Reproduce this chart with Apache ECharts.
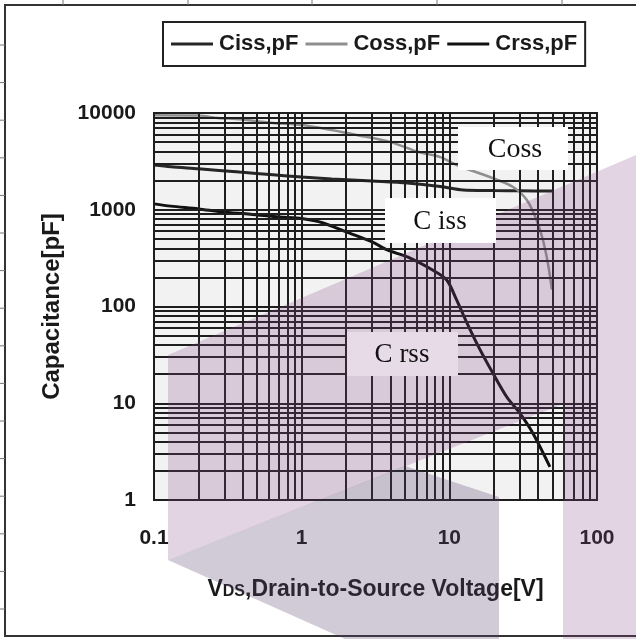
<!DOCTYPE html>
<html><head><meta charset="utf-8">
<script src="https://cdn.jsdelivr.net/npm/echarts@6/dist/echarts.min.js"></script>
<style>html,body{margin:0;padding:0;background:#fff}#c{width:636px;height:639px}</style>
</head><body><div id="c"></div>
<script>
// ---- data ----
const seriesNames = ['Ciss,pF', 'Coss,pF', 'Crss,pF'];
const cissV = [0.1, 0.13, 0.2, 0.38, 0.64, 1.0, 1.6, 3.0, 5.2, 8.7, 12.4, 20, 30, 50];
const cissC = [2900, 2780, 2650, 2450, 2300, 2180, 2080, 1980, 1890, 1740, 1600, 1580, 1570, 1560];
const cossV = [0.1, 0.2, 0.27, 0.38, 0.64, 1.0, 1.56, 2.4, 4.0, 6.2, 8.7, 11.2, 18.8, 27, 33.5, 39, 43, 46.5, 49.5];
const cossC = [9500, 9400, 8900, 8600, 7900, 7500, 6700, 5900, 5000, 3950, 3500, 2900, 2180, 1720, 1260, 780, 490, 280, 150];
const crssV = [0.1, 0.13, 0.2, 0.29, 0.45, 0.71, 1.0, 1.4, 2.0, 3.0, 3.8, 5.2, 7.7, 9.6, 11.2, 13.2, 16.1, 19.7, 24.5, 30, 36.8, 48];
const crssC = [1150, 1090, 1020, 950, 900, 840, 810, 730, 590, 465, 384, 325, 238, 188, 117, 67, 36, 20.5, 11.6, 7.9, 4.9, 2.2];
const xTickLabels = ['0.1', '1', '10', '100'];
const yTickLabels = ['1', '10', '100', '1000', '10000'];
const annotations = ['Coss', 'C iss', 'C rss'];

// ---- helpers ----
function pairs(xs, ys) { return xs.map((x, i) => [x, ys[i]]); }
function decadeGrid(minExp, maxExp) {
  const out = [];
  for (let e = minExp; e < maxExp; e++) for (let k = 1; k <= 9; k++) out.push(k * Math.pow(10, e));
  out.push(Math.pow(10, maxExp));
  return out;
}
function hasFont(f) {
  const c = document.createElement('canvas').getContext('2d');
  const s = 'Ciss,pF Coss,pF';
  c.font = 'bold 26px monospace'; const a = c.measureText(s).width;
  c.font = "bold 26px '" + f + "', monospace"; const b = c.measureText(s).width;
  return a !== b;
}
const narrow = hasFont('Liberation Sans Narrow');
const legendFont = narrow ? { fontFamily: "'Liberation Sans Narrow'", fontSize: 26 } : { fontFamily: "'Liberation Sans'", fontSize: 22 };
const SANS = "'Liberation Sans', Arial, sans-serif";
const SERIF = "'Liberation Serif', 'Times New Roman', serif";
const gridColor = '#1e1e1e';

const chart = echarts.init(document.getElementById('c'), null, { renderer: 'canvas' });
const option = {
  backgroundColor: '#ffffff',
  animation: false,
  legend: {
    data: seriesNames.map(n => ({ name: n, icon: 'rect' })),
    left: 163, top: 22,
    padding: [10, 8, 10, 8],
    itemGap: 7, itemWidth: 42, itemHeight: 3,
    backgroundColor: '#ffffff',
    borderColor: '#222', borderWidth: 2, borderRadius: 0,
    textStyle: Object.assign({ fontWeight: 'bold', color: '#1a1a1a', lineHeight: 24, padding: [0, 0, 0, 1] }, legendFont)
  },
  grid: {
    left: 154, right: 39, top: 113, bottom: 139,
    show: true, backgroundColor: '#f2f2f2', borderColor: '#222', borderWidth: 2
  },
  xAxis: {
    type: 'log', logBase: 10, min: 0.1, max: 100,
    name: '{a|V}{b|DS}{a|,Drain-to-Source Voltage[V]}',
    nameLocation: 'middle', nameGap: 78,
    nameTextStyle: {
      rich: {
        a: { fontFamily: SANS, fontWeight: 'bold', fontSize: 23, color: '#1a1a1a' },
        b: { fontFamily: SANS, fontWeight: 'bold', fontSize: 16, color: '#1a1a1a', verticalAlign: 'bottom', padding: [0, 0, 1, 0] }
      }
    },
    axisLine: { show: true, lineStyle: { color: '#222', width: 2 } },
    axisTick: { show: false },
    splitLine: { show: false },
    axisLabel: {
      margin: 28, fontFamily: SANS, fontWeight: 'bold', fontSize: 21, color: '#1a1a1a',
      formatter: v => xTickLabels[Math.round(Math.log10(v)) + 1]
    }
  },
  yAxis: {
    type: 'log', logBase: 10, min: 1, max: 10000,
    name: 'Capacitance[pF]', nameLocation: 'middle', nameGap: 90, nameRotate: 90,
    nameTextStyle: { fontFamily: SANS, fontWeight: 'bold', fontSize: 24, color: '#1a1a1a' },
    axisLine: { show: true, lineStyle: { color: '#222', width: 2 } },
    axisTick: { show: false },
    splitLine: { show: false },
    axisLabel: {
      margin: 18, fontFamily: SANS, fontWeight: 'bold', fontSize: 21, color: '#1a1a1a',
      formatter: v => yTickLabels[Math.round(Math.log10(v))]
    }
  },
  series: [
    {
      name: 'gridlines', type: 'line', data: [], z: 1, silent: true,
      markLine: {
        silent: true, symbol: ['none', 'none'], label: { show: false }, animation: false,
        lineStyle: { color: gridColor, width: 2, type: 'solid' },
        emphasis: { disabled: true },
        data: decadeGrid(-1, 2).map(v => ({ xAxis: v })).concat(decadeGrid(0, 4).map(v => ({ yAxis: v })))
      }
    },
    { name: seriesNames[0], type: 'line', data: pairs(cissV, cissC), showSymbol: false, symbol: 'none', smooth: 0.3, z: 3,
      lineStyle: { color: '#262626', width: 3 }, itemStyle: { color: '#262626' } },
    { name: seriesNames[1], type: 'line', data: pairs(cossV, cossC), showSymbol: false, symbol: 'none', smooth: 0.3, z: 3,
      lineStyle: { color: '#8f8f8f', width: 2.5 }, itemStyle: { color: '#8f8f8f' } },
    { name: seriesNames[2], type: 'line', data: pairs(crssV, crssC), showSymbol: false, symbol: 'none', smooth: 0.3, z: 3,
      lineStyle: { color: '#111111', width: 3 }, itemStyle: { color: '#111111' } }
  ],
  graphic: [
    // outer frame and sheet ruler ticks
    { type: 'rect', z: 40, silent: true, shape: { x: 5, y: 5, width: 640, height: 631 }, style: { fill: null, stroke: '#333', lineWidth: 2 } },
    ...[63, 188, 312, 437, 562].map(x => ({ type: 'line', z: 40, silent: true, shape: { x1: x, y1: 0, x2: x, y2: 5 }, style: { stroke: '#777', lineWidth: 1 } })),
    ...Array.from({ length: 16 }, (_, i) => 45 + i * 37.6).map(y => ({ type: 'line', z: 40, silent: true, shape: { x1: 0, y1: y, x2: 5, y2: y }, style: { stroke: '#777', lineWidth: 1 } })),
    // watermark shapes
    { type: 'polygon', z: 50, silent: true,
      shape: { points: [[168, 355], [636, 155], [636, 639], [563, 639], [563, 404], [168, 560]] },
      style: { fill: 'rgba(130,70,130,0.23)' } },
    { type: 'polygon', z: 50, silent: true,
      shape: { points: [[168, 560], [405, 466], [499, 497], [499, 639], [345, 639]] },
      style: { fill: 'rgba(90,70,110,0.28)' } },
    // annotation boxes
    { type: 'rect', z: 60, silent: true, shape: { x: 458, y: 127, width: 110, height: 43 }, style: { fill: '#ffffff' } },
    { type: 'text', z: 61, silent: true, style: { text: annotations[0], x: 515, y: 150, align: 'center', verticalAlign: 'middle', font: '28px ' + SERIF, fill: '#111' } },
    { type: 'rect', z: 60, silent: true, shape: { x: 385, y: 198, width: 111, height: 45 }, style: { fill: '#ffffff' } },
    { type: 'text', z: 61, silent: true, style: { text: annotations[1], x: 440, y: 222, align: 'center', verticalAlign: 'middle', font: '27px ' + SERIF, fill: '#111' } },
    { type: 'rect', z: 60, silent: true, shape: { x: 347, y: 332, width: 111, height: 44 }, style: { fill: '#e7dbe8' } },
    { type: 'text', z: 61, silent: true, style: { text: annotations[2], x: 402, y: 355, align: 'center', verticalAlign: 'middle', font: '27px ' + SERIF, fill: '#111' } }
  ]
};
chart.setOption(option);
</script>
</body></html>
